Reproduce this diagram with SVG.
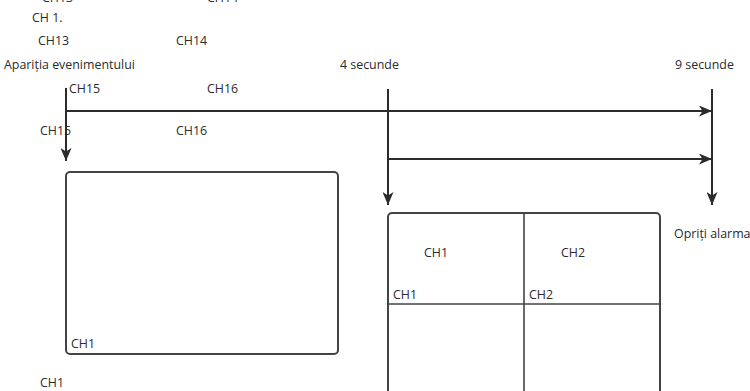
<svg xmlns="http://www.w3.org/2000/svg" width="750" height="391" viewBox="0 0 750 391">
<style>
text{font-family:"Open Sans","Noto Sans",sans-serif;font-size:12.4px;fill:#2b2b2b}
.ln{stroke:#2b2b2b;stroke-width:2;fill:none}
.box{stroke:#444;stroke-width:2;fill:#fff}
.div{stroke:#444;stroke-width:1.6}
</style>
<defs>
<marker id="ah" viewBox="0 0 13 11" refX="13" refY="5.5" markerWidth="13" markerHeight="11" markerUnits="userSpaceOnUse" orient="auto">
<path d="M0,0 L13,5.5 L0,11 L3.5,5.5 Z" fill="#2b2b2b"/>
</marker>
</defs>
<g id="labels">
<text x="42" y="2">CH13</text>
<text x="207" y="2">CH14</text>
<text x="32" y="22">CH 1.</text>
<text x="38" y="45">CH13</text>
<text x="176" y="45">CH14</text>
<text x="4" y="69">Apariția evenimentului</text>
<text x="340" y="69">4 secunde</text>
<text x="675" y="69">9 secunde</text>
<text x="69" y="93">CH15</text>
<text x="207" y="93">CH16</text>
<text x="40" y="135">CH15</text>
<text x="176" y="135">CH16</text>
<text x="674" y="238">Opriți alarma</text>
<text x="40" y="387">CH1</text>
</g>
<g id="connectors">
<line class="ln" x1="66" y1="88" x2="66" y2="161" marker-end="url(#ah)"/>
<line class="ln" x1="66" y1="111" x2="712" y2="111" marker-end="url(#ah)"/>
<line class="ln" x1="388" y1="89" x2="388" y2="205" marker-end="url(#ah)"/>
<line class="ln" x1="388" y1="159" x2="712" y2="159" marker-end="url(#ah)"/>
<line class="ln" x1="712" y1="89" x2="712" y2="205" marker-end="url(#ah)"/>
</g>
<g id="screen1">
<rect class="box" x="66" y="172" width="272" height="182" rx="4"/>
<text x="71" y="348">CH1</text>
</g>
<g id="screen4">
<rect class="box" x="388" y="213" width="272" height="200" rx="4"/>
<line class="div" x1="524" y1="213" x2="524" y2="391"/>
<line class="div" x1="388" y1="304" x2="660" y2="304"/>
<text x="424" y="257">CH1</text>
<text x="561" y="257">CH2</text>
<text x="393" y="299">CH1</text>
<text x="529" y="299">CH2</text>
</g>
</svg>
